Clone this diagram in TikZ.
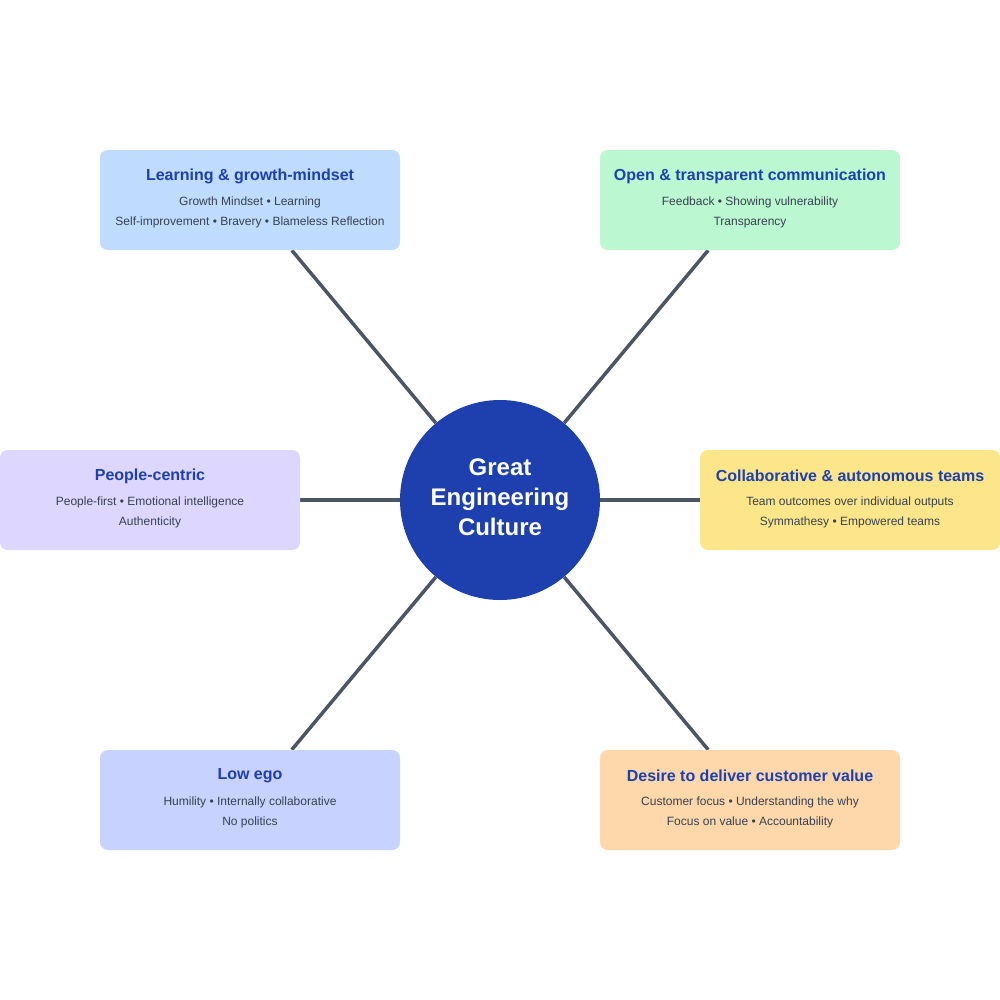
\documentclass[tikz,border=0pt]{standalone}
\usepackage{fontspec}
\setmainfont{Liberation Sans}
\usetikzlibrary{backgrounds}
\definecolor{cblue}{HTML}{BFDBFE}
\definecolor{cgreen}{HTML}{BBF7D0}
\definecolor{cpurple}{HTML}{DDD6FE}
\definecolor{cyellow}{HTML}{FDE68A}
\definecolor{cindigo}{HTML}{C7D2FE}
\definecolor{corange}{HTML}{FED7AA}
\definecolor{hub}{HTML}{1E40AF}
\definecolor{titlec}{HTML}{1E40AF}
\definecolor{subc}{HTML}{374151}
\definecolor{linec}{HTML}{4B5563}
\tikzset{
  card/.style={draw=none, rounded corners=6pt, minimum width=225pt, minimum height=75pt, inner sep=0pt},
  cardtitle/.style={font=\bfseries\fontsize{12}{14}\selectfont, text=titlec, inner sep=0pt, anchor=center},
  cardsub/.style={font=\fontsize{9}{15}\selectfont, text=subc, inner sep=0pt, align=center, anchor=center},
  spoke/.style={draw=linec, line width=2.6pt},
  hubnode/.style={circle, fill=hub, minimum size=150pt, inner sep=0pt},
  hubtext/.style={text=white, align=center, inner sep=0pt, font=\bfseries\fontsize{18}{22.5}\selectfont}
}
\begin{document}
\begin{tikzpicture}[x=0.75pt,y=-0.75pt]
\useasboundingbox (0,0) rectangle (1000,1000);
\node[hubnode] (hub) at (500,500) {};
\node[hubtext] (hubt) at (500,497) {Great\\Engineering\\Culture};
\node[card, fill=cblue] (tl) at (250,200) {};
\node[card, fill=cgreen] (tr) at (750,200) {};
\node[card, fill=cpurple] (ml) at (150,500) {};
\node[card, fill=cyellow] (mr) at (850,500) {};
\node[card, fill=cindigo] (bl) at (250,800) {};
\node[card, fill=corange] (br) at (750,800) {};
\begin{scope}[on background layer]
\foreach \n in {tl,tr,ml,mr,bl,br} {\path[spoke] (\n) -- (hub);}
\end{scope}
% texts
\node[cardtitle] (tlt) at (250,176) {Learning \& growth-mindset};
\node[cardsub] (tls) at (250,212.5) {Growth Mindset • Learning\\Self-improvement • Bravery • Blameless Reflection};
\node[cardtitle] (trt) at (750,176) {Open \& transparent communication};
\node[cardsub] (trs) at (750,212.5) {Feedback • Showing vulnerability\\Transparency};
\node[cardtitle] (mlt) at (150,476) {People-centric};
\node[cardsub] (mls) at (150,512.5) {People-first • Emotional intelligence\\Authenticity};
\node[cardtitle] (mrt) at (850,476) {Collaborative \& autonomous teams};
\node[cardsub] (mrs) at (850,512.5) {Team outcomes over individual outputs\\Symmathesy • Empowered teams};
\node[cardtitle] (blt) at (250,776) {Low ego};
\node[cardsub] (bls) at (250,812.5) {Humility • Internally collaborative\\No politics};
\node[cardtitle] (brt) at (750,776) {Desire to deliver customer value};
\node[cardsub] (brs) at (750,812.5) {Customer focus • Understanding the why\\Focus on value • Accountability};
\end{tikzpicture}
\end{document}
